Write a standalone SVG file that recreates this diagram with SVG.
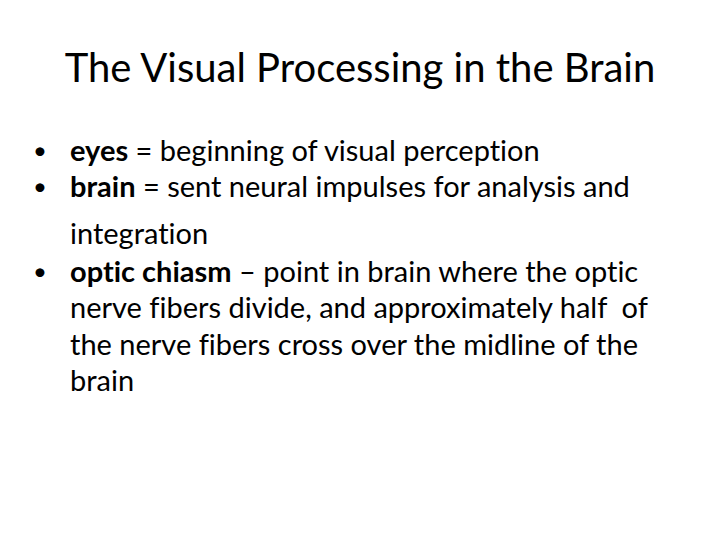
<svg xmlns="http://www.w3.org/2000/svg" width="720" height="540" viewBox="0 0 720 540">
<style>
text{font-family:Lato,"Open Sans","Liberation Sans",sans-serif;fill:#000;font-variant-ligatures:none;white-space:pre}
.t{font-size:40px}
.b{font-size:29px}
.bold{font-weight:bold}
.dot{font-size:24px}
</style>
<rect width="720" height="540" fill="#fff"/>
<g id="title"><text class="t" x="360" y="82" text-anchor="middle">The Visual Processing in the Brain</text></g>
<g id="bullets" class="b">
<text class="dot" x="33" y="159">•</text>
<text x="70" y="161"><tspan class="bold">eyes</tspan> = beginning of visual perception</text>
<text class="dot" x="33" y="195">•</text>
<text x="70" y="197"><tspan class="bold">brain</tspan> = sent neural impulses for analysis and</text>
<text x="70" y="244">integration</text>
<text class="dot" x="33" y="280">•</text>
<text x="70" y="282"><tspan class="bold">optic chiasm</tspan> – point in brain where the optic</text>
<text x="70" y="318">nerve fibers divide, and approximately half  of</text>
<text x="70" y="355">the nerve fibers cross over the midline of the</text>
<text x="70" y="391">brain</text>
</g>
</svg>
